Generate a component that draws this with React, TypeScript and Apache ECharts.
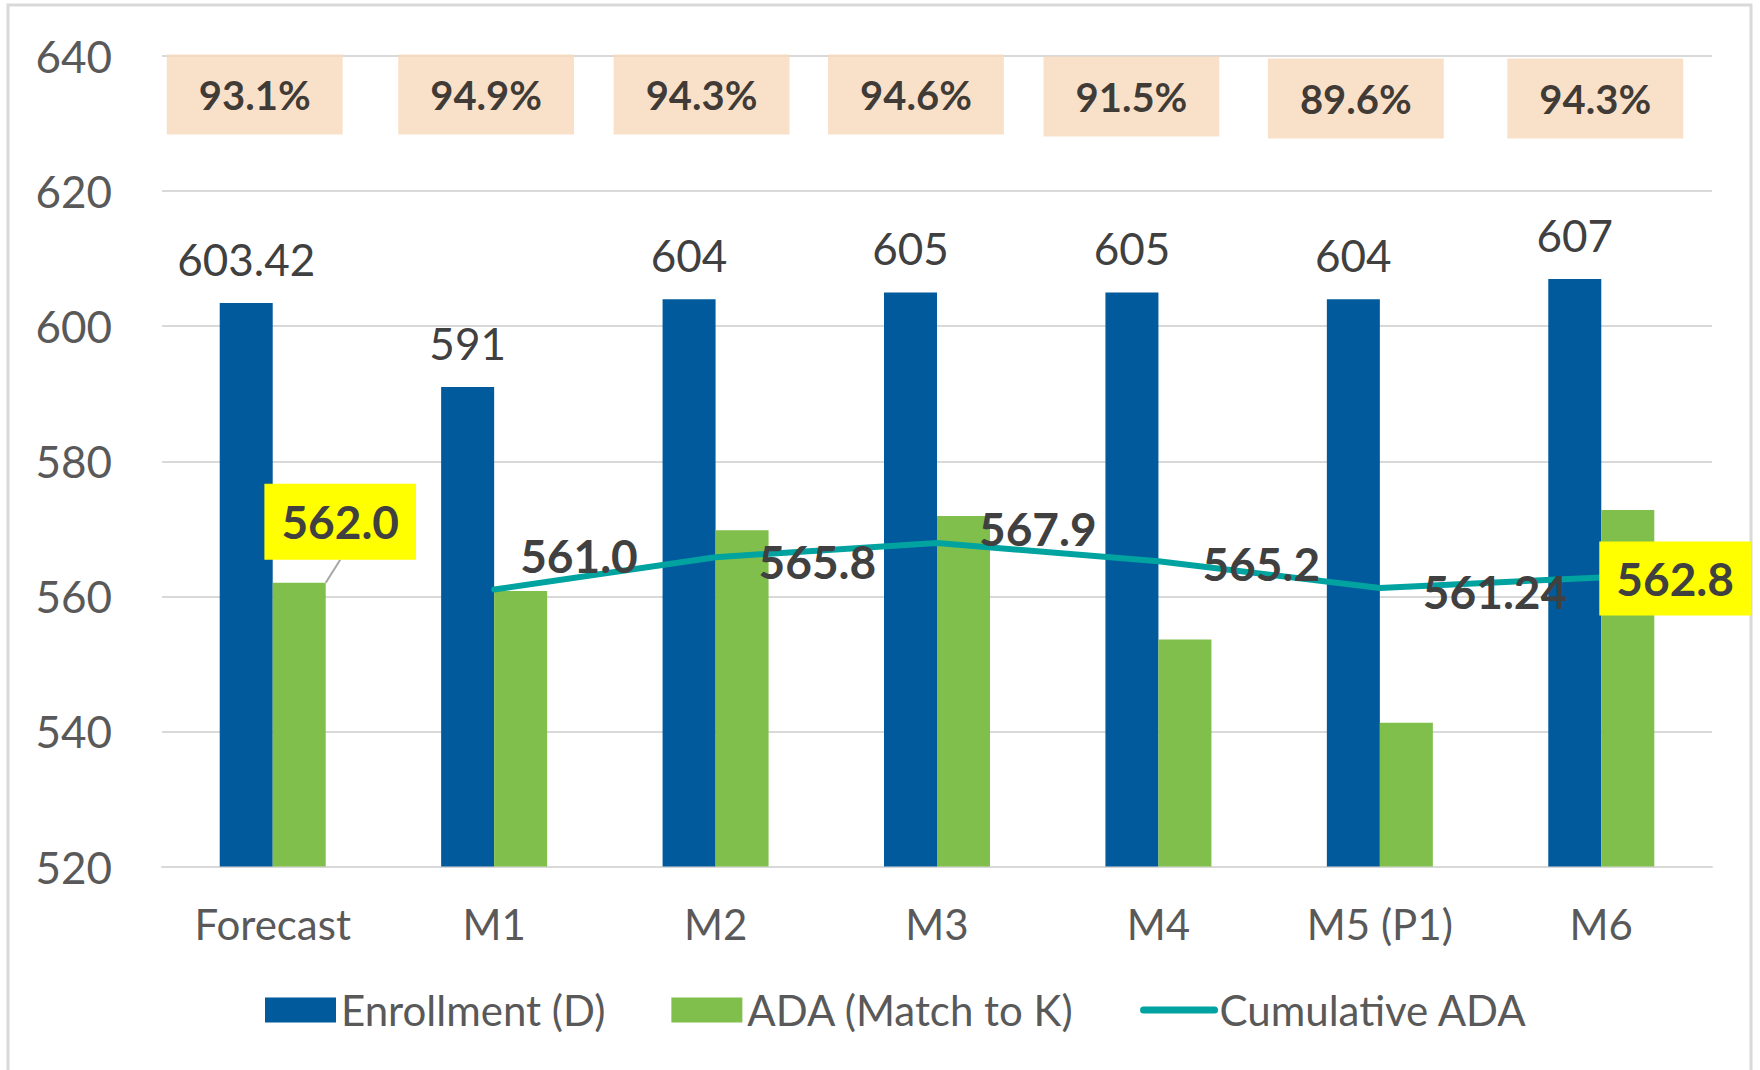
import React, { useEffect, useRef } from "react";
import * as echarts from "echarts";

// ---- data ----
const categories = ["Forecast", "M1", "M2", "M3", "M4", "M5 (P1)", "M6"];
const enrollment = [603.42, 591, 604, 605, 605, 604, 607];
const ada = [562.0, 560.8, 569.8, 571.9, 553.6, 541.3, 572.8];
const cumulativeAda: (number | null)[] = [null, 561.0, 565.8, 567.9, 565.2, 561.24, 562.8];
const cumulativeLabels = ["", "561.0", "565.8", "567.9", "565.2", "561.24", "562.8"];
const adaForecastLabel = "562.0";
const attendancePct = ["93.1%", "94.9%", "94.3%", "94.6%", "91.5%", "89.6%", "94.3%"];
const yTicks = { min: 520, max: 640, interval: 20 };

// ---- layout (not data) ----
const PCT_ROW = 634;
const pctOffsets = [[-18, -2], [-8, -2], [-14, -2], [-21, -2], [-27, 0], [-24, 2], [-6, 2]];
const cumOffsets = [[0, 0], [24, -34], [41, 4], [40, -14], [42, 2], [41, 4], [-4, 1]];

const FONT = "Lato";
const BLUE = "#005A9C";
const GREEN = "#80BF4B";
const TEAL = "#00A3A0";

export default function App() {
  const ref = useRef<HTMLDivElement>(null);

  useEffect(() => {
    if (!ref.current) return;
    const chart = echarts.init(ref.current, null, { renderer: "svg" });

    const option: any = {
      animation: false,
      backgroundColor: "#ffffff",
      graphic: [
        {
          type: "rect",
          shape: { x: 8, y: 5, width: 1743, height: 1080 },
          style: { fill: "none", stroke: "#d9d9d9", lineWidth: 3 },
          silent: true,
          z: -10,
        },
      ],
      grid: { left: 162, right: 48, top: 56, bottom: 203.5 },
      legend: {
        data: [
          { name: "Enrollment (D)", icon: "rect" },
          { name: "ADA (Match to K)", icon: "rect" },
          {
            name: "Cumulative ADA",
            itemStyle: { opacity: 0 },
            lineStyle: { width: 7, cap: "round", color: TEAL },
          },
        ],
        left: 260,
        top: 983,
        itemWidth: 71,
        itemHeight: 25,
        itemGap: 66,
        textStyle: { fontSize: 42, color: "#595959", fontFamily: FONT, lineHeight: 44 },
      },
      xAxis: {
        type: "category",
        data: categories,
        axisTick: { show: false },
        axisLine: { lineStyle: { color: "#d9d9d9", width: 2 } },
        axisLabel: { fontSize: 42, color: "#595959", fontFamily: FONT, margin: 36 },
      },
      yAxis: {
        type: "value",
        min: yTicks.min,
        max: yTicks.max,
        interval: yTicks.interval,
        axisLine: { show: false },
        axisTick: { show: false },
        splitLine: { lineStyle: { color: "#d9d9d9", width: 2 } },
        axisLabel: { fontSize: 44, color: "#595959", fontFamily: FONT, margin: 50 },
      },
      series: [
        {
          name: "Enrollment (D)",
          type: "bar",
          data: enrollment,
          barWidth: 53,
          barGap: "0%",
          itemStyle: { color: BLUE },
          label: {
            show: true,
            position: "top",
            distance: 22,
            fontSize: 44,
            fontFamily: FONT,
            color: "#404040",
            formatter: (p: any) => String(p.value),
          },
        },
        {
          name: "ADA (Match to K)",
          type: "bar",
          data: ada.map((v, i) =>
            i === 0
              ? {
                  value: v,
                  label: {
                    show: true,
                    position: "top",
                    distance: 0,
                    formatter: () => adaForecastLabel,
                    backgroundColor: "#FFFF00",
                    padding: [15, 17],
                    fontSize: 46,
                    lineHeight: 46,
                    fontWeight: "bold",
                    fontFamily: FONT,
                    color: "#404040",
                  },
                }
              : v
          ),
          barWidth: 53,
          itemStyle: { color: GREEN },
          label: { show: false },
          labelLayout: (params: any) => (params.dataIndex === 0 ? { dx: 41, dy: -23 } : {}),
          labelLine: { show: true, lineStyle: { color: "#a6a6a6", width: 2 } },
        },
        {
          name: "Cumulative ADA",
          type: "line",
          data: cumulativeAda.map((v, i) =>
            v == null
              ? "-"
              : {
                  value: v,
                  label:
                    i === cumulativeAda.length - 1
                      ? {
                          offset: cumOffsets[i],
                          backgroundColor: "#FFFF00",
                          padding: [14, 17],
                        }
                      : { offset: cumOffsets[i] },
                }
          ),
          symbol: "circle",
          symbolSize: 4,
          itemStyle: { color: TEAL },
          lineStyle: { color: TEAL, width: 6, cap: "round", join: "round" },
          z: 3,
          label: {
            show: true,
            position: "right",
            distance: 0,
            fontSize: 46,
            lineHeight: 46,
            fontWeight: "bold",
            fontFamily: FONT,
            color: "#404040",
            formatter: (p: any) => cumulativeLabels[p.dataIndex],
          },
        },
        {
          name: "pct",
          type: "scatter",
          data: attendancePct.map((_, i) => ({
            value: [categories[i], PCT_ROW],
            label: { offset: pctOffsets[i] },
          })),
          symbol: "rect",
          symbolSize: 1,
          itemStyle: { color: "transparent" },
          silent: true,
          z: 5,
          label: {
            show: true,
            position: "inside",
            formatter: (p: any) => attendancePct[p.dataIndex],
            backgroundColor: "#F8D9BC",
            padding: [20, 32],
            fontSize: 40,
            lineHeight: 40,
            fontWeight: "bold",
            fontFamily: FONT,
            color: "#0d0d0d",
          },
        },
      ],
    };

    chart.setOption(option);
    return () => chart.dispose();
  }, []);

  return (
    <div
      ref={ref}
      style={{ position: "absolute", left: 0, top: 0, width: 1760, height: 1070, background: "#fff" }}
    />
  );
}
